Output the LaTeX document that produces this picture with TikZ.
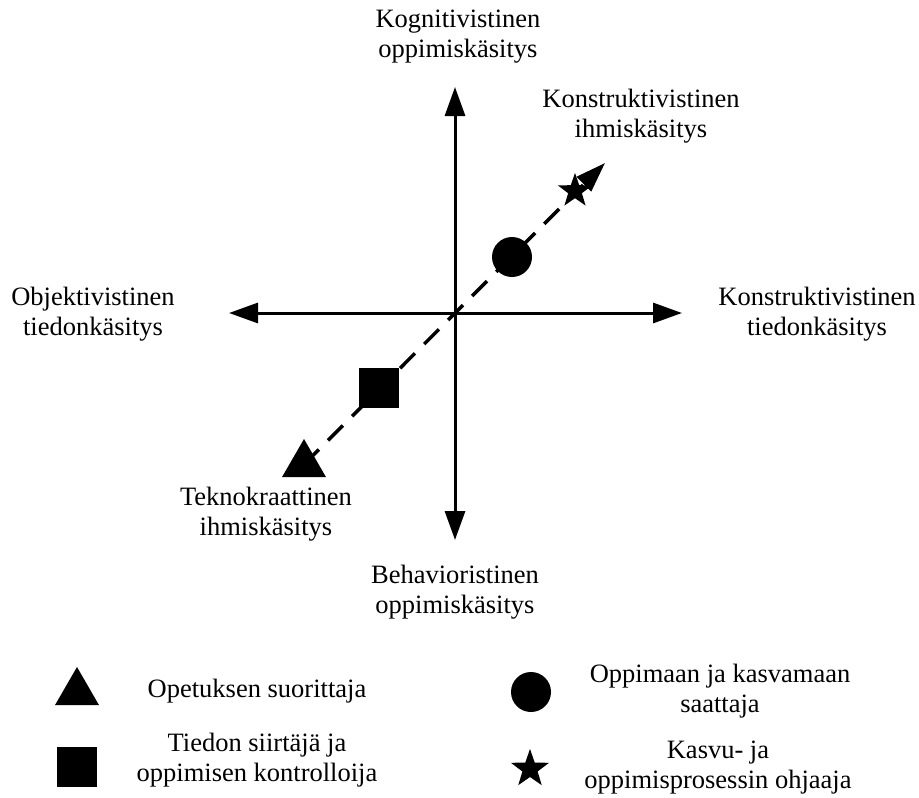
\documentclass[tikz,border=0pt]{standalone}
\usepackage{fontspec}
\setmainfont{Liberation Serif}
\usetikzlibrary{arrows.meta,shapes.geometric}
\begin{document}
\begin{tikzpicture}[x=1pt,y=-1pt,
  lbl/.style={align=center,anchor=base,inner sep=0pt,font=\fontsize{26.5}{29.5}\selectfont},
  axis/.style={line width=3pt,-{Triangle[length=29pt,width=20pt]}},
  dashline/.style={line width=3.5pt,dash pattern=on 21pt off 13pt,-{Triangle[length=30pt,width=20pt]}},
  symb/.style={fill=black,draw=none,inner sep=0pt},
  tri/.style={symb,regular polygon,regular polygon sides=3,minimum size=50.8pt},
  sq/.style={symb,rectangle,minimum size=40pt},
  circ/.style={symb,circle,minimum size=40pt},
  starmark/.style={symb,star,star points=5,star point ratio=2.5}
]
\useasboundingbox (0,0) rectangle (919,798);
% axes
\coordinate (O) at (455,313);
\coordinate (Ntip) at (455,87);
\coordinate (Stip) at (455,540);
\coordinate (Wtip) at (229,313);
\coordinate (Etip) at (682,313);
\draw[axis] (O) -- (Ntip);
\draw[axis] (O) -- (Stip);
\draw[axis] (O) -- (Wtip);
\draw[axis] (O) -- (Etip);
% markers on diagonal
\node[tri] (t1) at (304,464.4) {};
\node[sq] (s1) at (379,388) {};
\node[circ] (c1) at (512,257) {};
\node[starmark,minimum size=36pt] (st1) at (575,191) {};
\coordinate (Dtip) at (605,163);
\draw[dashline] (t1.center) -- (Dtip);
% axis labels (base = baseline of last line)
\node[lbl] (kog) at (458,57) {Kognitivistinen\\oppimiskäsitys};
\node[lbl] (kih) at (641,137) {Konstruktivistinen\\ihmiskäsitys};
\node[lbl] (obj) at (93,335) {Objektivistinen\\tiedonkäsitys};
\node[lbl] (kti) at (817,335) {Konstruktivistinen\\tiedonkäsitys};
\node[lbl] (tek) at (266,535) {Teknokraattinen\\ihmiskäsitys};
\node[lbl] (beh) at (455,613) {Behavioristinen\\oppimiskäsitys};
% legend
\node[tri] (lt) at (77,692.4) {};
\node[sq] (ls) at (77,767) {};
\node[circ] (lc) at (531,692) {};
\node[starmark,minimum size=40pt] (lst) at (530,769) {};
\node[lbl] (lt1) at (257,697) {Opetuksen suorittaja};
\node[lbl] (ls1) at (257,781) {Tiedon siirtäjä ja\\oppimisen kontrolloija};
\node[lbl] (lc1) at (720,712) {Oppimaan ja kasvamaan\\saattaja};
\node[lbl] (lst1) at (718,788) {Kasvu- ja\\oppimisprosessin ohjaaja};
\end{tikzpicture}
\end{document}
